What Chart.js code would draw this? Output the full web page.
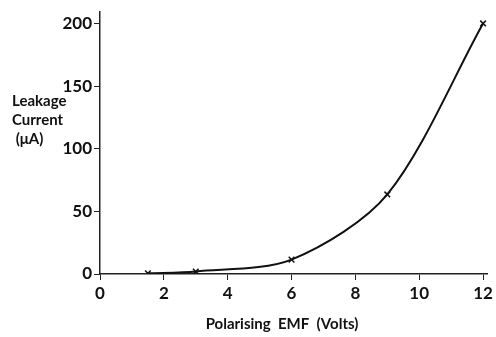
<!DOCTYPE html>
<html>
<head>
<meta charset="utf-8">
<script src="https://cdn.jsdelivr.net/npm/chart.js@4"></script>
<style>
  html, body { margin: 0; padding: 0; background: #fff; }
  #wrap { width: 496px; height: 337px; }
</style>
</head>
<body>
<div id="wrap"><canvas id="chart"></canvas></div>
<script>
// data
const emfVolts = [1.5, 3, 6, 9, 12];
const leakageMicroAmps = [0.5, 2, 11.5, 63.5, 200];
const xTickValues = [0, 2, 4, 6, 8, 10, 12];
const yTickValues = [0, 50, 100, 150, 200];
const yTitleLines = ["Leakage", "Current", " (\u03bcA)"];
const xTitle = "Polarising  EMF  (Volts)";

const FONT = "Lato, 'DejaVu Sans', sans-serif";

// axis titles drawn by hand: y title is horizontal, x title sits a bit left of centre
const titlesPlugin = {
    id: "titles",
    afterDraw(chart) {
        const ctx = chart.ctx;
        ctx.save();
        ctx.fillStyle = "#111";
        ctx.font = "bold 15px " + FONT;
        ctx.textBaseline = "middle";
        ctx.textAlign = "left";
        yTitleLines.forEach((line, i) => {
            ctx.fillText(line, 12, 101 + i * 19);
        });
        ctx.textAlign = "center";
        ctx.fillText(xTitle, 282, 324);
        ctx.restore();
    }
};

const setTicks = list => axis => {
    axis.ticks = list.map(v => ({ value: v }));
};

new Chart(document.getElementById("chart"), {
    type: "scatter",
    data: {
        datasets: [{
            data: emfVolts.map((x, i) => ({ x: x, y: leakageMicroAmps[i] })),
            showLine: true,
            borderColor: "#111",
            borderWidth: 2,
            tension: 0.3,
            pointStyle: "crossRot",
            pointRadius: 4,
            pointBorderWidth: 1.5,
            pointBorderColor: "#111",
            pointBackgroundColor: "#111"
        }]
    },
    options: {
        responsive: true,
        maintainAspectRatio: false,
        animation: false,
        layout: { padding: { top: 5, right: 6, left: 0, bottom: 0 } },
        plugins: {
            legend: { display: false },
            tooltip: { enabled: false }
        },
        scales: {
            x: {
                type: "linear",
                min: 0,
                max: 12.15,
                afterBuildTicks: setTicks(xTickValues),
                afterFit: scale => { scale.height = 63; },
                border: { display: true, color: "#222", width: 1.5 },
                grid: { drawOnChartArea: false, drawTicks: true, tickLength: 6, color: "#222" },
                ticks: {
                    padding: 3,
                    color: "#111",
                    maxRotation: 0,
                    font: { family: FONT, size: 17, weight: "bold" },
                    callback: v => String(v)
                }
            },
            y: {
                type: "linear",
                min: 0,
                max: 209,
                afterBuildTicks: setTicks(yTickValues),
                afterFit: scale => { scale.width = 100; },
                border: { display: true, color: "#222", width: 1.5 },
                grid: { drawOnChartArea: false, drawTicks: true, tickLength: 6, color: "#222" },
                ticks: {
                    padding: 2,
                    color: "#111",
                    font: { family: FONT, size: 17, weight: "bold" },
                    callback: v => String(v)
                }
            }
        }
    },
    plugins: [titlesPlugin]
});
</script>
</body>
</html>
